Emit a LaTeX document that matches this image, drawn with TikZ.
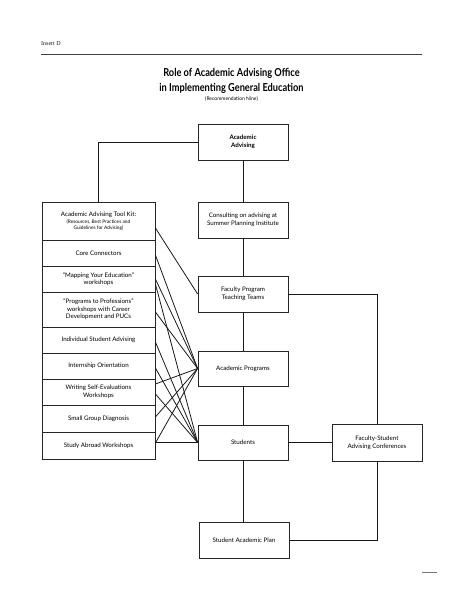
\documentclass[tikz,border=0pt]{standalone}
\usepackage{fontspec}
\setmainfont{Lato}
\newfontfamily\titlefont[FakeStretch=0.84]{Lato Bold}
\newfontfamily\serifhead{Liberation Serif}
\usetikzlibrary{calc}
\tikzset{
  box/.style={draw=black!85, line width=0.8pt, minimum width=90pt, minimum height=36pt,
    align=center, inner sep=1pt, font=\fontsize{6.2}{7.6}\selectfont},
  colbox/.style={draw=black!85, line width=0.8pt, minimum width=113pt,
    align=center, inner sep=1pt, font=\fontsize{6.2}{7.6}\selectfont},
  link/.style={draw=black!90, line width=0.8pt},
}
\begin{document}
\begin{tikzpicture}[x=1pt,y=-1pt]
\useasboundingbox (0,0) rectangle (463,599);
% header
\node[anchor=west, font=\serifhead\fontsize{6}{7}\selectfont, text=black!90, inner sep=0pt] (hdr) at (41,44) {Insert D};
\coordinate (ruleL) at (41,54);
\coordinate (ruleR) at (422,54);
\draw[line width=0.8pt, black!75] (ruleL) -- (ruleR);
% title
\node[font=\titlefont\fontsize{11}{12}\selectfont, inner sep=0pt] (t1) at (231.5,73) {Role of Academic Advising Office};
\node[font=\titlefont\fontsize{11}{12}\selectfont, inner sep=0pt] (t2) at (231.5,88) {in Implementing General Education};
\node[font=\fontsize{5}{6}\selectfont, inner sep=0pt] (t3) at (231.5,99) {(Recommendation Nine)};
% centre column
\node[box, font=\bfseries\fontsize{6.2}{7.6}\selectfont] (aa) at (243,142) {Academic\\Advising};
\node[box] (cons) at (243,220) {Consulting on advising at\\Summer Planning Institute};
\node[box] (fptt) at (243,294) {Faculty Program\\Teaching Teams};
\node[box, minimum height=35pt] (ap) at (243,368.5) {Academic Programs};
\node[box, minimum height=35pt] (stu) at (243,442.5) {Students};
\node[box] (sap) at (244,540) {Student Academic Plan};
\node[box, minimum height=37pt] (fsac) at (377,442.5) {Faculty-Student\\Advising Conferences};
% left column
\node[colbox, minimum height=38pt] (r1) at (98.5,221) {Academic Advising Tool Kit:\\[-1pt]{\fontsize{4.8}{8}\selectfont (Resources, Best Practices and}\\[-1.5pt]{\fontsize{4.8}{8}\selectfont Guidelines for Advising)}};
\node[colbox, minimum height=26pt] (r2) at (98.5,253) {Core Connectors};
\node[colbox, minimum height=26pt] (r3) at (98.5,279) {``Mapping Your Education''\\workshops};
\node[colbox, minimum height=35pt] (r4) at (98.5,309.5) {``Programs to Professions''\\workshops with Career\\Development and PUCs};
\node[colbox, minimum height=26pt] (r5) at (98.5,340) {Individual Student Advising};
\node[colbox, minimum height=26pt] (r6) at (98.5,366) {Internship Orientation};
\node[colbox, minimum height=26pt] (r7) at (98.5,392) {Writing Self-Evaluations\\Workshops};
\node[colbox, minimum height=27pt] (r8) at (98.5,418.5) {Small Group Diagnosis};
\node[colbox, minimum height=27pt] (r9) at (98.5,445.5) {Study Abroad Workshops};
% spine
\draw[link] (aa) -- (cons);
\draw[link] (cons) -- (fptt);
\draw[link] (fptt) -- (ap);
\draw[link] (ap) -- (stu);
\draw[link] (stu.south) -- (stu.south |- sap.north);
\draw[link] (aa.west) -| (r1.north);
\draw[link] (fptt.east) -| (fsac.north);
\draw[link] (stu.east) -- (fsac.west);
\draw[link] (fsac.south) |- (sap.east);
% fan connectors
\draw[link] ([yshift=-7pt]r1.east) -- (fptt.west);
\draw[link] ([yshift=-2pt]r2.east) -- (ap.west);
\draw[link] ([yshift=0pt]r3.east) -- (ap.west);
\draw[link] ([yshift=-5pt]r3.east) -- (stu.west);
\draw[link] ([yshift=-2.5pt]r4.east) -- (ap.west);
\draw[link] ([yshift=-2pt]r5.east) -- (stu.west);
\draw[link] ([yshift=-2pt]r6.east) -- (stu.west);
\draw[link] ([yshift=8pt]r7.east) -- (ap.west);
\draw[link] ([yshift=-2pt]r7.east) -- (stu.west);
\draw[link] ([yshift=1.5pt]r8.east) -- (ap.west);
\draw[link] ([yshift=2.5pt]r9.east) -- (ap.west);
\draw[link] ([yshift=3pt]r9.east) -- (stu.west);
% page mark
\coordinate (pmL) at (422,572.5);
\coordinate (pmR) at (437,572.5);
\draw[line width=1.2pt, black!55] (pmL) -- (pmR);
\end{tikzpicture}
\end{document}
